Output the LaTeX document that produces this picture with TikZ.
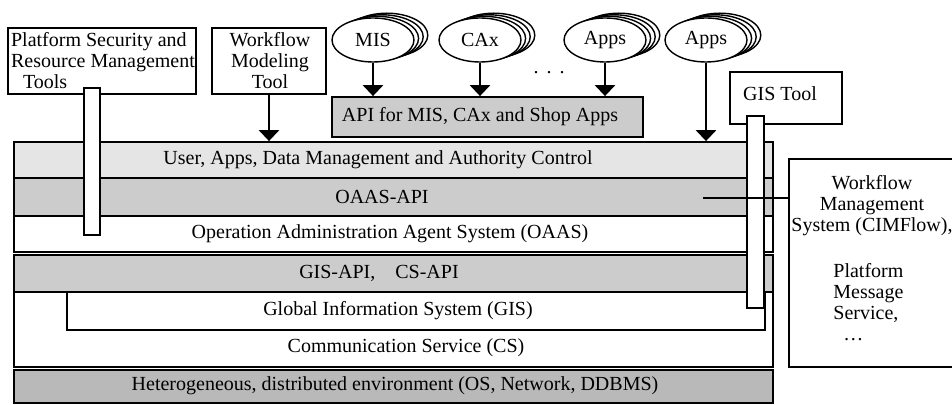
\documentclass[tikz,border=0pt]{standalone}
\usepackage{fontspec}
\setmainfont{Liberation Serif}
\usetikzlibrary{positioning}
\usetikzlibrary{shapes}
\usetikzlibrary{arrows.meta}
\usetikzlibrary{fit}
\definecolor{layerlight}{RGB}{229,229,229}
\definecolor{layermid}{RGB}{204,204,204}
\definecolor{layerdark}{RGB}{185,185,185}
\tikzset{frame/.style={draw=black,line width=0.9pt}}
\tikzset{box/.style={rectangle,frame,fill=white,inner sep=0pt}}
\tikzset{app/.style={ellipse,draw=black,fill=white,line width=0.7pt,minimum width=41pt,minimum height=22pt,inner sep=0pt,font=\fontsize{10}{10.5}\selectfont}}
\tikzset{lbl/.style={inner sep=0pt,font=\fontsize{10}{10.5}\selectfont}}
\tikzset{feed/.style={black,line width=1.4pt,-{Triangle[width=10pt,length=5.5pt]}}}
\tikzset{link/.style={black,line width=0.6pt}}

\begin{document}
\begin{tikzpicture}[x=0.5pt,y=-0.5pt]
  \useasboundingbox (0,0) rectangle (952,405);

  % Tools
  \node[box,fit={(8,28) (196,94)}] (sec) {};
  \node[lbl,align=left] (sectxt) at (103,61) {Platform Security and\\Resource Management\\\hspace*{6pt}Tools};
  \node[box,fit={(212,28) (326,94)}] (wfm) {};
  \node[lbl,align=center] (wfmtxt) at (270,61) {Workflow\\Modeling\\Tool};
  \node[box,fit={(730,72) (842,124)}] (gistool) {};
  \node[lbl] (gistooltxt) at (780,94) {GIS Tool};

  % Apps
  \foreach \name/\x/\txt in {mis/373/MIS,cax/480/CAx,appsa/605/Apps,appsb/706/Apps}
  {
    \foreach \k in {3,2,1}
      \node[app,xshift=\k*2.3pt,yshift=\k*0.8pt] at (\x,40) {};
    \node[app] (\name) at (\x,40) {\txt};
  }
  \node[lbl] (more) at (549,73) {.\hspace{4pt}.\hspace{4pt}.};
  \node[box,fill=layermid,fit={(332,97) (643,137)}] (api) {};
  \node[lbl] (apitxt) at (480,117) {API for MIS, CAx and Shop Apps};

  % Layers
  \node[box,fit={(14,142) (773,252)}] (oaas) {};
  \node[box,fill=layerlight,fit={(14,142) (773,178)}] (user) {};
  \node[box,fill=layermid,fit={(14,178) (773,216)}] (oaasapi) {};
  \node[lbl] (usertxt) at (378,160) {User, Apps, Data Management and Authority Control};
  \node[lbl] (oaasapitxt) at (382,197) {OAAS-API};
  \node[lbl] (oaastxt) at (390,234) {Operation Administration Agent System (OAAS)};

  \node[box,fit={(14,255) (773,367)}] (cs) {};
  \node[box,fill=layermid,fit={(14,255) (773,292)}] (gisapi) {};
  \node[box,fit={(67,292) (765,330)}] (gis) {};
  \node[lbl] (gisapitxt) at (379,273) {GIS-API,\hspace{1em}CS-API};
  \node[lbl] (gistxt) at (398,311) {Global Information System (GIS)};
  \node[lbl] (cstxt) at (406,348) {Communication Service (CS)};

  \node[box,fill=layerdark,fit={(14,370) (773,403)}] (het) {};
  \node[lbl] (hettxt) at (395,386) {Heterogeneous, distributed environment (OS, Network, DDBMS)};

  % Workflow management
  \node[box,draw=none,fit={(790,160) (952,366)}] (wms) {};
  \draw[frame] (wms.north east) -- (wms.north west) -- (wms.south west) -- (wms.south east);
  \node[lbl,align=center] (wmstxt) at (872,206) {Workflow\\Management\\System (CIMFlow),};
  \node[lbl,align=left,anchor=west] (pmstxt) at (833,302) {Platform\\Message\\Service,\\\hspace*{5pt}…};

  % Arrows
  \draw[feed] (wfm.south) -- (wfm.south |- user.north);
  \foreach \name in {mis,cax,appsa}
    \draw[feed] (\name) -- (\name |- api.north);
  \draw[feed] (appsb) -- (appsb |- user.north);

  % Bars
  \node[box,fit={(84,88) (100,235)}] (secbar) {};
  \node[box,fit={(747,116) (764,308)}] (gisbar) {};

  \coordinate (tap) at (703,198);
  \draw[link] (tap) -- (tap -| wms.west);
\end{tikzpicture}
\end{document}
